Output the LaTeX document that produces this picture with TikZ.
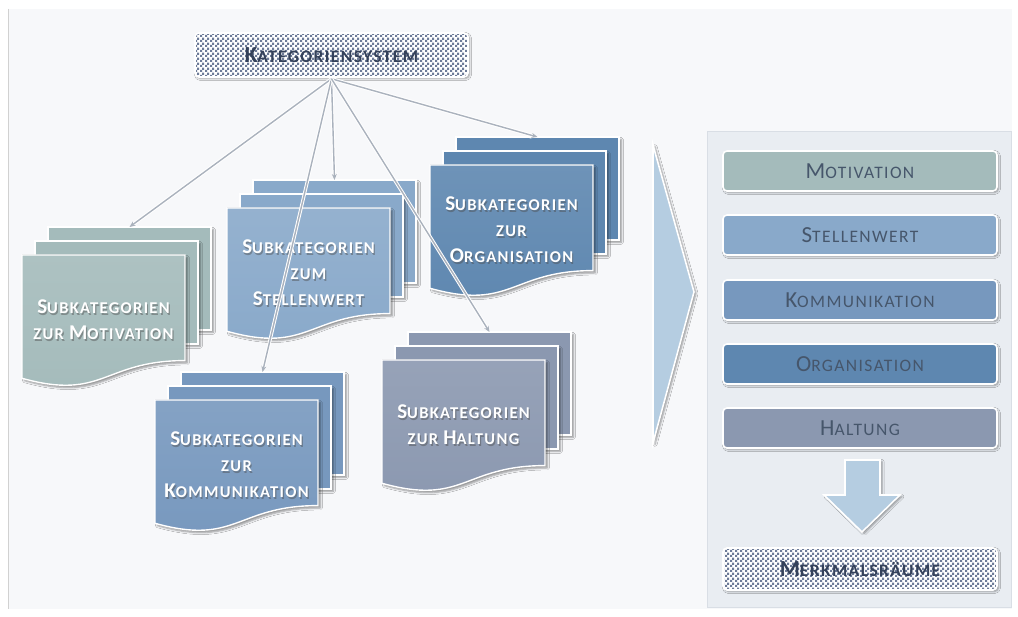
\documentclass[tikz,border=0pt]{standalone}
\usepackage{fontspec}
\setmainfont[LetterSpace=8]{Carlito}
\usetikzlibrary{arrows.meta,shadows.blur,patterns.meta}

% colours
\definecolor{bgc}{HTML}{F7F8FA}
\definecolor{panelc}{HTML}{E9EDF2}
\definecolor{panelb}{HTML}{D9DEE5}
\definecolor{txtc}{HTML}{46566B}
\definecolor{chktxt}{HTML}{34415A}
\definecolor{linec}{HTML}{AAB2BD}
\definecolor{chk}{HTML}{6D7B98}
\definecolor{arrc}{HTML}{B5CDE1}
\definecolor{cMot}{HTML}{A4BBBB}
\definecolor{cSte}{HTML}{89A9CA}
\definecolor{cKom}{HTML}{7798BE}
\definecolor{cOrg}{HTML}{5E87B0}
\definecolor{cHal}{HTML}{8B98B0}

% fine checkerboard tile
\tikzdeclarepattern{
  name=finechecker, type=uncolored,
  bounding box={(0,0) and (5pt,5pt)},
  tile size={(5pt,5pt)},
  code={\fill (0,0) rectangle (2.5pt,2.5pt); \fill (2.5pt,2.5pt) rectangle (5pt,5pt);}
}

% faux small capitals: large initial
\newcommand\Ini[1]{{\fontsize{23}{23}\selectfont #1}}
\newcommand\Dni[1]{{\fontsize{21}{21}\selectfont #1}}

% page size of a document stack
\def\dw{163}
\def\dh{132}

% \docstack{name}{x}{y}{colour}{label}
\newcommand\docstack[5]{%
  \fill[#4, blur shadow, draw=white, line width=1.4pt]
    ({#2+26},{#3-28}) rectangle ({#2+26+\dw},{#3-28+0.78*\dh});
  \fill[#4, blur shadow, draw=white, line width=1.4pt]
    ({#2+13},{#3-14}) rectangle ({#2+13+\dw},{#3-14+0.78*\dh});
  \fill[blur shadow, draw=white, line width=1.4pt, top color=#4!90!white, bottom color=#4]
    (#2,#3) -- ({#2+\dw},#3) -- ({#2+\dw},{#3+0.80*\dh})
    .. controls ({#2+0.5*\dw},{#3+0.80*\dh}) and ({#2+0.5*\dw},{#3+1.107*\dh})
    .. ({#2},{#3+0.934*\dh}) -- cycle;
  \node[doctext, text=black!70, opacity=.45] (#1-sh) at ({#2+0.5*\dw+1.2},{#3+66.2}) {#5};
  \node[doctext] (#1) at ({#2+0.5*\dw},{#3+65}) {#5};
  \coordinate (#1-in) at ({#2+26+0.5*\dw},{#3-28});
}

\tikzset{
  doctext/.style={text=white, align=center, font=\bfseries\fontsize{16.5}{26}\selectfont},
  bar/.style={rounded corners=4pt, draw=white, line width=1.6pt,
    blur shadow={shadow xshift=1.5pt, shadow yshift=-1.5pt, shadow blur radius=2pt},
    minimum width=274pt, minimum height=40pt, inner sep=0pt,
    text=txtc, font=\fontsize{17.5}{17.5}\selectfont},
  checkbox/.style={bar, preaction={fill=white}, pattern={finechecker}, pattern color=chk,
    text=chktxt, font=\bfseries\fontsize{17.5}{17.5}\selectfont},
  link/.style={linec, line width=1.4pt,
    -{Stealth[length=6pt,width=5pt]},
    preaction={draw=white, line width=3.4pt, -{Stealth[length=7pt,width=7pt]}}},
  blockarrow/.style={fill=arrc, draw=white, line width=1.6pt, line join=miter,
    blur shadow={shadow xshift=2pt, shadow yshift=-1.5pt, shadow blur radius=2pt}},
}

\begin{document}
\begin{tikzpicture}[x=1pt,y=-1pt]
\useasboundingbox (0,0) rectangle (1018,617);
% background
\fill[white] (0,0) rectangle (1018,617);
\fill[bgc] (8,9) rectangle (1012,609);
\draw[black!18, line width=0.8pt] (8.4,9) -- (8.4,609);

% right panel
\fill[panelc, draw=panelb, line width=0.8pt] (707,131) rectangle (1011,607);

% root node
\node[checkbox, minimum width=273pt, minimum height=44pt] (kat) at (331.5,55)
  {\Ini{K}ATEGORIENSYSTEM};

% document stacks
\docstack{mot}{22}{255}{cMot}{\Dni{S}UBKATEGORIEN\\ZUR \Dni{M}OTIVATION}
\docstack{ste}{227}{208}{cSte}{\Dni{S}UBKATEGORIEN\\ZUM\\\Dni{S}TELLENWERT}
\docstack{org}{430}{165}{cOrg}{\Dni{S}UBKATEGORIEN\\ZUR\\\Dni{O}RGANISATION}
\docstack{kom}{155}{400}{cKom}{\Dni{S}UBKATEGORIEN\\ZUR\\\Dni{K}OMMUNIKATION}
\docstack{hal}{382}{360}{cHal}{\Dni{S}UBKATEGORIEN\\ZUR \Dni{H}ALTUNG}

% connectors
\coordinate (kat-out) at ([yshift=-1pt]kat.south);
\draw[link] (kat-out) -- (mot-in);
\draw[link] (kat-out) -- (ste-in);
\draw[link] (kat-out) -- (org-in);
\draw[link] (kat-out) -- (kom-in);
\draw[link] (kat-out) -- (hal-in);

% big chevron
\fill[blockarrow] (653,145) -- (694,292) -- (653,443) -- cycle;

% category bars
\node[bar, fill=cMot] (bmot) at (860,171) {\Ini{M}OTIVATION};
\node[bar, fill=cSte] (bste) at (860,235) {\Ini{S}TELLENWERT};
\node[bar, fill=cKom] (bkom) at (860,300) {\Ini{K}OMMUNIKATION};
\node[bar, fill=cOrg] (borg) at (860,364) {\Ini{O}RGANISATION};
\node[bar, fill=cHal] (bhal) at (860,428) {\Ini{H}ALTUNG};

% down arrow
\fill[blockarrow] (845,460) -- (880,460) -- (880,495) -- (900,495) -- (862,532)
  -- (824,495) -- (845,495) -- cycle;

% result node
\node[checkbox, minimum height=42pt] (merk) at (860,569) {\Ini{M}ERKMALSRÄUME};
\end{tikzpicture}
\end{document}
